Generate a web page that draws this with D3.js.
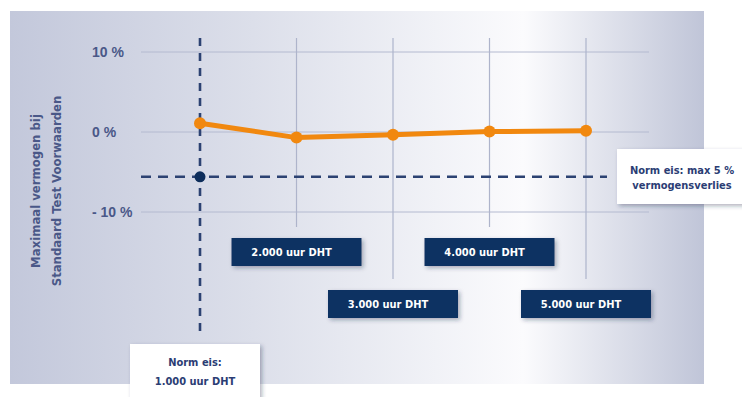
<!DOCTYPE html>
<html><head><meta charset="utf-8">
<script src="https://cdn.jsdelivr.net/npm/d3@7"></script>
<style>
html,body{margin:0;padding:0;background:#fff;}
svg{display:block;font-family:"DejaVu Sans Condensed","DejaVu Sans",sans-serif;font-stretch:condensed;}
</style></head>
<body>
<svg id="chart" width="742" height="397"></svg>
<script>
// ---- data ----
const hours = [1000, 2000, 3000, 4000, 5000];
const powerDeviation = [1.1, -0.7, -0.35, 0.05, 0.15];
const hourLabels = ["1.000 uur DHT", "2.000 uur DHT", "3.000 uur DHT", "4.000 uur DHT", "5.000 uur DHT"];
const yTicks = [10, 0, -10];
const yTickLabels = ["10 %", "0 %", "- 10 %"];
const normLossValue = -5.6;
const normHours = 1000;
const yTitleLines = ["Maximaal vermogen bij", "Standaard Test Voorwaarden"];
const normHoursLines = ["Norm eis:", "1.000 uur DHT"];
const normLossLines = ["Norm eis: max  5 %", "vermogensverlies"];

// ---- setup ----
const svg = d3.select("#chart");
const x = d3.scaleLinear().domain([1000, 5000]).range([200, 586]);
const y = d3.scaleLinear().domain([-10, 10]).range([212, 52]);
const gridLeft = 141, gridRight = 649, gridTop = 38;
const navy = "#0e3362", textBlue = "#4a5888", dashNavy = "#2c4272";

const defs = svg.append("defs");
const grad = defs.append("linearGradient").attr("id", "bg").attr("x1", "0").attr("x2", "1").attr("y1", "0").attr("y2", "0");
grad.append("stop").attr("offset", "0").attr("stop-color", "#c3c8db");
grad.append("stop").attr("offset", "0.35").attr("stop-color", "#dcdfea");
grad.append("stop").attr("offset", "0.74").attr("stop-color", "#fbfbfd");
grad.append("stop").attr("offset", "1").attr("stop-color", "#c0c5d8");
const sh = defs.append("filter").attr("id", "shadow").attr("x", "-20%").attr("y", "-30%").attr("width", "150%").attr("height", "180%");
sh.append("feDropShadow").attr("dx", 2).attr("dy", 2).attr("stdDeviation", 2).attr("flood-color", "#1a2540").attr("flood-opacity", 0.35);

// background panel
svg.append("rect").attr("x", 10).attr("y", 11).attr("width", 694).attr("height", 373).attr("fill", "url(#bg)");

// horizontal gridlines
svg.append("g").selectAll("line").data(yTicks).join("line")
  .attr("x1", gridLeft).attr("x2", gridRight)
  .attr("y1", d => y(d)).attr("y2", d => y(d))
  .attr("stroke", "#b4bad0").attr("stroke-width", 1);

// y-axis tick labels via d3 axis
const yAxis = d3.axisLeft(y).tickValues(yTicks).tickSize(0)
  .tickFormat((d, i) => yTickLabels[i]);
const ya = svg.append("g").attr("transform", "translate(92,0)").call(yAxis);
ya.select(".domain").remove();
ya.selectAll("text").attr("x", 0).attr("text-anchor", "start")
  .attr("fill", textBlue).attr("font-size", 14).attr("font-weight", "bold")
  .attr("font-family", "inherit").attr("dy", "0.35em");

// y-axis title
const yt = svg.append("g").attr("transform", "translate(0,191) rotate(-90)");
yt.selectAll("text").data(yTitleLines).join("text")
  .attr("x", 0).attr("y", (d, i) => 40 + i * 21)
  .attr("text-anchor", "middle").attr("fill", textBlue)
  .attr("font-size", 13).attr("font-weight", "bold").text(d => d);

// vertical gridlines/stems for 2000..5000
const stemData = hours.map((h, i) => ({h, i})).filter(d => d.h !== normHours);
const rowTop = i => (i % 2 === 1 ? 238 : 290);
svg.append("g").selectAll("line").data(stemData).join("line")
  .attr("x1", d => x(d.h)).attr("x2", d => x(d.h))
  .attr("y1", gridTop).attr("y2", d => rowTop(d.i) - 11)
  .attr("stroke", "#aeb4cb").attr("stroke-width", 1.2);

// norm dashed lines
svg.append("line").attr("x1", gridLeft).attr("x2", 607)
  .attr("y1", y(normLossValue)).attr("y2", y(normLossValue))
  .attr("stroke", dashNavy).attr("stroke-width", 2.6).attr("stroke-dasharray", "10,7");
svg.append("line").attr("x1", x(normHours)).attr("x2", x(normHours))
  .attr("y1", gridTop).attr("y2", 338)
  .attr("stroke", dashNavy).attr("stroke-width", 2.6).attr("stroke-dasharray", "8,7");
svg.append("circle").attr("cx", x(normHours)).attr("cy", y(normLossValue)).attr("r", 5.5).attr("fill", "#0d2d5b");

// data line
const line = d3.line().x((d, i) => x(hours[i])).y(d => y(d));
svg.append("path").datum(powerDeviation).attr("d", line)
  .attr("fill", "none").attr("stroke", "#f1880f").attr("stroke-width", 5)
  .attr("stroke-linejoin", "round");
svg.append("g").selectAll("circle").data(powerDeviation).join("circle")
  .attr("cx", (d, i) => x(hours[i])).attr("cy", d => y(d)).attr("r", 6)
  .attr("fill", "#f1880f");

// hour label boxes
const bw = 130, bh = 28;
const boxes = svg.append("g").selectAll("g").data(stemData).join("g")
  .attr("transform", d => `translate(${x(d.h) - bw / 2},${rowTop(d.i)})`);
boxes.append("rect").attr("width", bw).attr("height", bh).attr("fill", navy).attr("filter", "url(#shadow)");
boxes.append("text").attr("x", bw / 2 - 5).attr("y", bh / 2 + 4)
  .attr("text-anchor", "middle").attr("fill", "#fff")
  .attr("font-size", 11).attr("font-weight", "bold").text(d => hourLabels[d.i]);

// white callout: norm hours
const nb = svg.append("g").attr("transform", `translate(${x(normHours) - 70},344)`);
nb.append("rect").attr("width", 130).attr("height", 60).attr("fill", "#fff").attr("filter", "url(#shadow)");
nb.selectAll("text").data(normHoursLines).join("text")
  .attr("x", 65).attr("y", (d, i) => 22 + i * 19).attr("text-anchor", "middle")
  .attr("fill", "#2b3d74").attr("font-size", 11).attr("font-weight", "bold").text(d => d);

// white callout: norm loss
const lb = svg.append("g").attr("transform", `translate(617,149)`);
lb.append("rect").attr("width", 130).attr("height", 55).attr("fill", "#fff").attr("filter", "url(#shadow)");
lb.selectAll("text").data(normLossLines).join("text")
  .attr("x", 65).attr("y", (d, i) => 25 + i * 15).attr("text-anchor", "middle")
  .attr("fill", "#2b3d74").attr("font-size", 11).attr("font-weight", "bold").text(d => d);
</script>
</body></html>
